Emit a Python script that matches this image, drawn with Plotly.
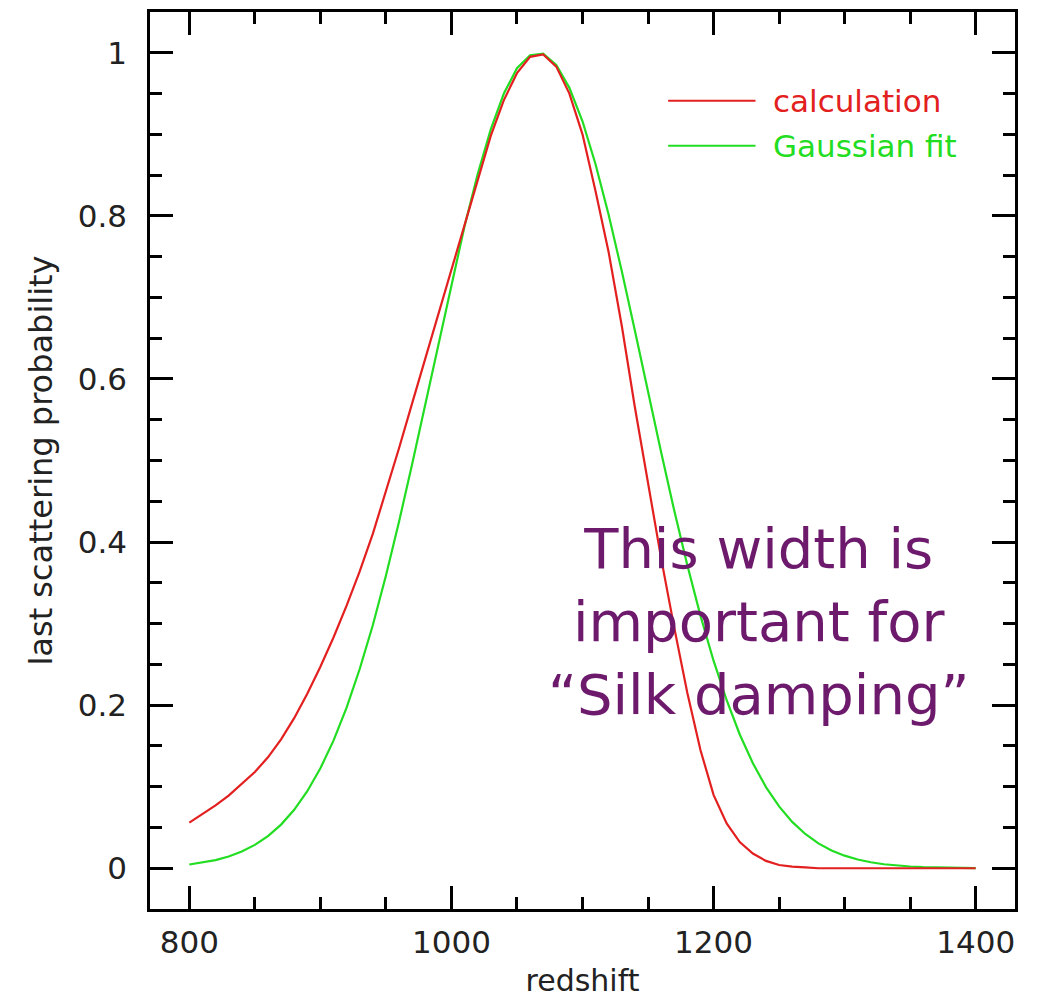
import plotly.graph_objects as go

# ---- data ----
redshift = list(range(800, 1401, 10))

calculation = [
    0.056, 0.066, 0.077, 0.089, 0.103, 0.118, 0.136, 0.158, 0.184, 0.214,   # 800-890
    0.247, 0.283, 0.322, 0.364, 0.410, 0.461, 0.515, 0.570, 0.625, 0.680,   # 900-990
    0.735, 0.790, 0.845, 0.898, 0.942, 0.975, 0.995, 0.998, 0.983, 0.950,   # 1000-1090
    0.900, 0.830, 0.755, 0.665, 0.565, 0.470, 0.380, 0.295, 0.215, 0.145,   # 1100-1190
    0.090, 0.055, 0.032, 0.018, 0.009, 0.004, 0.002, 0.001, 0.000, 0.000,   # 1200-1290
    0.000, 0.000, 0.000, 0.000, 0.000, 0.000, 0.000, 0.000, 0.000, 0.000,   # 1300-1390
    0.000,                                                                  # 1400
]

gaussian_fit = [
    0.0046, 0.0068, 0.0099, 0.0143, 0.0204, 0.0286, 0.0394, 0.0535, 0.0716, 0.0944,  # 800-890
    0.1225, 0.1565, 0.1970, 0.2443, 0.2980, 0.3586, 0.4250, 0.4954, 0.5690, 0.6439,  # 900-990
    0.7175, 0.7874, 0.8510, 0.9060, 0.9500, 0.9810, 0.9970, 0.9990, 0.9850, 0.9570,  # 1000-1090
    0.9160, 0.8630, 0.8010, 0.7320, 0.6590, 0.5840, 0.5100, 0.4386, 0.3715, 0.3098,  # 1100-1190
    0.2545, 0.2060, 0.1640, 0.1288, 0.0995, 0.0758, 0.0568, 0.0420, 0.0305, 0.0218,  # 1200-1290
    0.0154, 0.0107, 0.0073, 0.0049, 0.0033, 0.0021, 0.0014, 0.0009, 0.0005, 0.0003,  # 1300-1390
    0.0002,                                                                           # 1400
]

x_tickvals = [800, 1000, 1200, 1400]
y_tickvals = [0, 0.2, 0.4, 0.6, 0.8, 1]
y_ticktext = ["0", "0.2", "0.4", "0.6", "0.8", "1"]
legend_labels = ["calculation", "Gaussian fit"]
note_text = "This width is<br>important for<br>\u201cSilk damping\u201d"

RED = "#e32020"
GREEN = "#22dd22"
PURPLE = "#6d1a6d"
FONT = "DejaVu Sans"

fig = go.Figure()
fig.add_trace(go.Scatter(x=redshift, y=gaussian_fit, mode="lines",
                         line=dict(color=GREEN, width=2.2), name=legend_labels[1],
                         showlegend=False))
fig.add_trace(go.Scatter(x=redshift, y=calculation, mode="lines",
                         line=dict(color=RED, width=2.2), name=legend_labels[0],
                         showlegend=False))

# manual legend (line samples + coloured labels) in paper coordinates
leg_rows = [(legend_labels[0], RED, 0.901), (legend_labels[1], GREEN, 0.851)]
for label, col, yp in leg_rows:
    fig.add_shape(type="line", xref="paper", yref="paper",
                  x0=0.599, x1=0.700, y0=yp, y1=yp,
                  line=dict(color=col, width=2))
    fig.add_annotation(text=label, xref="paper", yref="paper",
                       x=0.718, y=yp, xanchor="left", yanchor="middle",
                       showarrow=False,
                       font=dict(family=FONT, size=31, color=col))

fig.add_annotation(text=note_text, xref="x", yref="y", x=1234, y=0.302,
                   xanchor="center", yanchor="middle", showarrow=False,
                   align="center",
                   font=dict(family=FONT, size=56, color=PURPLE))

axis_common = dict(
    showline=True, linecolor="black", linewidth=2.5, mirror="ticks",
    ticks="inside", tickcolor="black", tickwidth=2.5, ticklen=23,
    showgrid=False, zeroline=False, automargin=False,
    tickfont=dict(family=FONT, size=31, color="#222222"),
)

fig.update_xaxes(
    range=[770, 1430], tickvals=x_tickvals,
    minor=dict(ticks="inside", dtick=50, tick0=800, ticklen=12,
               tickwidth=2.5, tickcolor="black", showgrid=False),
    title=dict(text="redshift", font=dict(family=FONT, size=30, color="#222222"),
               standoff=22),
    ticklabelstandoff=4,
    **axis_common,
)
fig.update_yaxes(
    range=[-0.05, 1.05], tickvals=y_tickvals, ticktext=y_ticktext,
    minor=dict(ticks="inside", dtick=0.05, tick0=0, ticklen=12,
               tickwidth=2.5, tickcolor="black", showgrid=False),
    title=dict(text="last scattering probability",
               font=dict(family=FONT, size=32, color="#222222"), standoff=16),
    ticklabelstandoff=14,
    **axis_common,
)

fig.update_layout(
    width=1039, height=998,
    margin=dict(l=150, r=24, t=12, b=89),
    paper_bgcolor="white", plot_bgcolor="white",
    showlegend=False,
)

fig.write_html("out.html")
